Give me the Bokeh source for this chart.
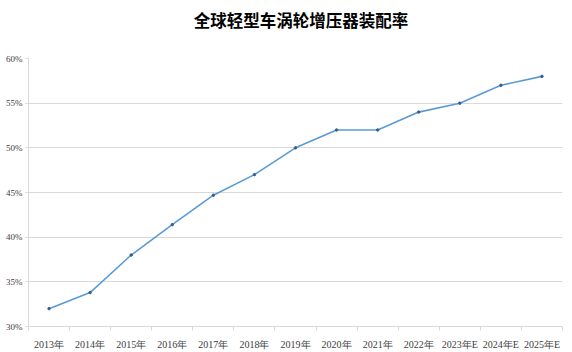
from bokeh.plotting import figure
from bokeh.models import FixedTicker, Range1d, ColumnDataSource, Div
from bokeh.layouts import column
from bokeh.embed import file_html
from bokeh.resources import INLINE

title_text = "全球轻型车涡轮增压器装配率"
categories = ["2013年", "2014年", "2015年", "2016年", "2017年", "2018年", "2019年",
              "2020年", "2021年", "2022年", "2023年E", "2024年E", "2025年E"]
rates = [32.0, 33.8, 38.0, 41.4, 44.7, 47.0, 50.0, 52.0, 52.0, 54.0, 55.0, 57.0, 58.0]
y_ticks = [30, 35, 40, 45, 50, 55, 60]

xs = [i + 0.5 for i in range(len(categories))]
src = ColumnDataSource(dict(x=xs, y=rates))

title = Div(text=title_text, width=572, height=40, margin=0,
            styles={"font-family": "'Noto Sans CJK SC'", "font-size": "16.5px",
                    "font-weight": "bold", "color": "#000000", "text-align": "center",
                    "line-height": "40px", "padding-left": "30px",
                    "box-sizing": "border-box", "background": "white"})

p = figure(width=572, height=312, output_backend="svg", toolbar_location=None,
           x_range=Range1d(0, len(categories)), y_range=Range1d(30, 60),
           min_border_left=28, min_border_right=10, min_border_top=18, min_border_bottom=26,
           margin=0)
p.outline_line_color = None
p.background_fill_color = "white"
p.border_fill_color = "white"

p.line("x", "y", source=src, line_color="#5B9BD5", line_width=1.6)
p.scatter("x", "y", source=src, size=2.5, color="#3A5F8F")

# x axis
p.xaxis.ticker = FixedTicker(ticks=xs, minor_ticks=list(range(len(categories) + 1)))
p.xaxis.major_label_overrides = {x: c for x, c in zip(xs, categories)}
p.xaxis.major_tick_line_color = None
p.xaxis.minor_tick_line_color = "#d9d9d9"
p.xaxis.minor_tick_in = 0
p.xaxis.minor_tick_out = 4
p.xaxis.axis_line_color = "#d9d9d9"
p.xaxis.major_label_text_font = "Liberation Serif"
p.xaxis.major_label_text_font_size = "10px"
p.xaxis.major_label_text_color = "#404040"
p.xaxis.major_label_standoff = 6

# y axis
p.yaxis.ticker = FixedTicker(ticks=y_ticks)
p.yaxis.major_label_overrides = {t: f"{t}%" for t in y_ticks}
p.yaxis.axis_line_color = "#d9d9d9"
p.yaxis.major_tick_line_color = "#d9d9d9"
p.yaxis.major_tick_in = 0
p.yaxis.major_tick_out = 3
p.yaxis.minor_tick_line_color = None
p.yaxis.major_label_text_font = "Liberation Serif"
p.yaxis.major_label_text_font_size = "9px"
p.yaxis.major_label_text_color = "#404040"
p.yaxis.major_label_standoff = 3

p.xgrid.grid_line_color = None
p.ygrid.grid_line_color = "#d9d9d9"
p.ygrid.grid_line_width = 1

layout = column(title, p, spacing=0, margin=0)
open("out.html", "w").write(file_html(layout, INLINE))
